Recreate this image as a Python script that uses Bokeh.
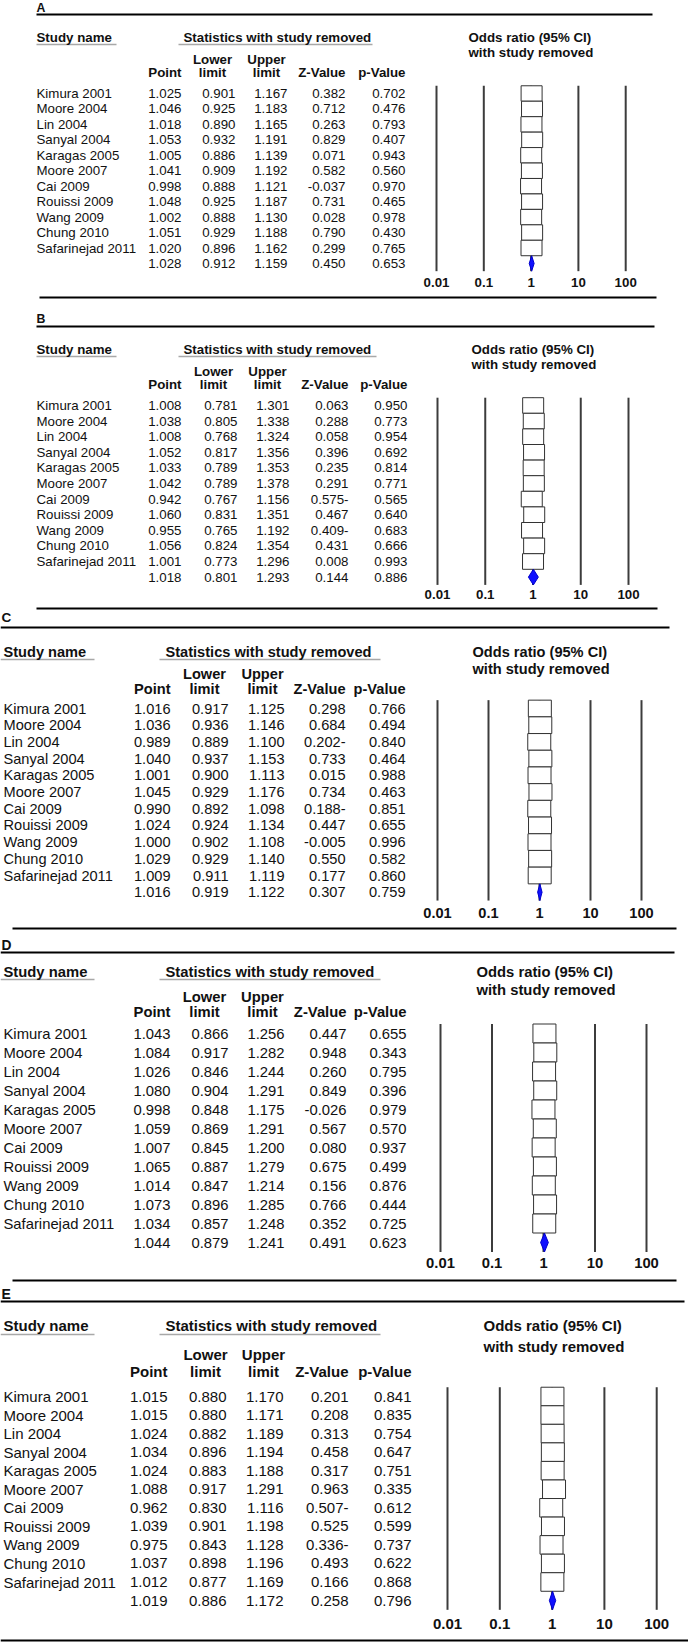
from bokeh.plotting import figure
from bokeh.models import Range1d, LogScale, LinearScale
from bokeh.core.properties import value
from bokeh.embed import file_html
from bokeh.resources import INLINE

studies = ["Kimura 2001", "Moore 2004", "Lin 2004", "Sanyal 2004", "Karagas 2005",
           "Moore 2007", "Cai 2009", "Rouissi 2009", "Wang 2009", "Chung 2010",
           "Safarinejad 2011"]
tick_values = [0.01, 0.1, 1, 10, 100]
tick_labels = ["0.01", "0.1", "1", "10", "100"]

# Panel A (last entry = pooled estimate)
A_point = [1.025, 1.046, 1.018, 1.053, 1.005, 1.041, 0.998, 1.048, 1.002, 1.051, 1.020, 1.028]
A_lower = [0.901, 0.925, 0.890, 0.932, 0.886, 0.909, 0.888, 0.925, 0.888, 0.929, 0.896, 0.912]
A_upper = [1.167, 1.183, 1.165, 1.191, 1.139, 1.192, 1.121, 1.187, 1.130, 1.188, 1.162, 1.159]
A_z = ["0.382", "0.712", "0.263", "0.829", "0.071", "0.582", "-0.037", "0.731", "0.028", "0.790", "0.299", "0.450"]
A_p = [0.702, 0.476, 0.793, 0.407, 0.943, 0.560, 0.970, 0.465, 0.978, 0.430, 0.765, 0.653]

# Panel B
B_point = [1.008, 1.038, 1.008, 1.052, 1.033, 1.042, 0.942, 1.060, 0.955, 1.056, 1.001, 1.018]
B_lower = [0.781, 0.805, 0.768, 0.817, 0.789, 0.789, 0.767, 0.831, 0.765, 0.824, 0.773, 0.801]
B_upper = [1.301, 1.338, 1.324, 1.356, 1.353, 1.378, 1.156, 1.351, 1.192, 1.354, 1.296, 1.293]
B_z = ["0.063", "0.288", "0.058", "0.396", "0.235", "0.291", "0.575-", "0.467", "0.409-", "0.431", "0.008", "0.144"]
B_p = [0.950, 0.773, 0.954, 0.692, 0.814, 0.771, 0.565, 0.640, 0.683, 0.666, 0.993, 0.886]

# Panel C
C_point = [1.016, 1.036, 0.989, 1.040, 1.001, 1.045, 0.990, 1.024, 1.000, 1.029, 1.009, 1.016]
C_lower = [0.917, 0.936, 0.889, 0.937, 0.900, 0.929, 0.892, 0.924, 0.902, 0.929, 0.911, 0.919]
C_upper = [1.125, 1.146, 1.100, 1.153, 1.113, 1.176, 1.098, 1.134, 1.108, 1.140, 1.119, 1.122]
C_z = ["0.298", "0.684", "0.202-", "0.733", "0.015", "0.734", "0.188-", "0.447", "-0.005", "0.550", "0.177", "0.307"]
C_p = [0.766, 0.494, 0.840, 0.464, 0.988, 0.463, 0.851, 0.655, 0.996, 0.582, 0.860, 0.759]

# Panel D
D_point = [1.043, 1.084, 1.026, 1.080, 0.998, 1.059, 1.007, 1.065, 1.014, 1.073, 1.034, 1.044]
D_lower = [0.866, 0.917, 0.846, 0.904, 0.848, 0.869, 0.845, 0.887, 0.847, 0.896, 0.857, 0.879]
D_upper = [1.256, 1.282, 1.244, 1.291, 1.175, 1.291, 1.200, 1.279, 1.214, 1.285, 1.248, 1.241]
D_z = ["0.447", "0.948", "0.260", "0.849", "-0.026", "0.567", "0.080", "0.675", "0.156", "0.766", "0.352", "0.491"]
D_p = [0.655, 0.343, 0.795, 0.396, 0.979, 0.570, 0.937, 0.499, 0.876, 0.444, 0.725, 0.623]

# Panel E
E_point = [1.015, 1.015, 1.024, 1.034, 1.024, 1.088, 0.962, 1.039, 0.975, 1.037, 1.012, 1.019]
E_lower = [0.880, 0.880, 0.882, 0.896, 0.883, 0.917, 0.830, 0.901, 0.843, 0.898, 0.877, 0.886]
E_upper = [1.170, 1.171, 1.189, 1.194, 1.188, 1.291, 1.116, 1.198, 1.128, 1.196, 1.169, 1.172]
E_z = ["0.201", "0.208", "0.313", "0.458", "0.317", "0.963", "0.507-", "0.525", "0.336-", "0.493", "0.166", "0.258"]
E_p = [0.841, 0.835, 0.754, 0.647, 0.751, 0.335, 0.612, 0.599, 0.737, 0.622, 0.868, 0.796]

panels_data = {
    "A": (A_point, A_lower, A_upper, A_z, A_p),
    "B": (B_point, B_lower, B_upper, B_z, B_p),
    "C": (C_point, C_lower, C_upper, C_z, C_p),
    "D": (D_point, D_lower, D_upper, D_z, D_p),
    "E": (E_point, E_lower, E_upper, E_z, E_p),
}

# ---------------- layout (page pixel positions) ----------------
LAY = {
    "A": dict(letter=(36, 7.5), top=(14, 36, 652), bottom=(297, 39, 656),
              sn_y=37, od_y=37, od2_y=52, lo_y=59, pt_y=72, row0=93, step=15.45, ax_y=282,
              name_x=36, cols=[181, 235, 287, 345, 405], lower_c=212, upper_c=266,
              stat_x=183, ul_y=44, sn_ul=(36, 116), st_ul=(178, 372), od_x=468,
              f0=436, dec=47.3, box_w=21, fs=13.3),
    "B": dict(letter=(36, 318), top=(326, 36, 654), bottom=(608, 36, 657),
              sn_y=349, od_y=349, od2_y=364, lo_y=371, pt_y=384, row0=405, step=15.6, ax_y=594,
              name_x=36, cols=[181, 237, 289, 348, 407], lower_c=213, upper_c=267,
              stat_x=183, ul_y=356, sn_ul=(36, 116), st_ul=(178, 376), od_x=471,
              f0=437, dec=47.75, box_w=21, fs=13.3),
    "C": dict(letter=(1, 617), top=(627, 0, 669), bottom=(928, 12, 676),
              sn_y=651, od_y=651, od2_y=668, lo_y=673, pt_y=688, row0=708, step=16.7, ax_y=912,
              name_x=3, cols=[170, 228, 284, 345, 405], lower_c=204, upper_c=262,
              stat_x=165, ul_y=659, sn_ul=(0, 94), st_ul=(159, 380), od_x=472,
              f0=437, dec=51.0, box_w=23, fs=14.6),
    "D": dict(letter=(1, 945), top=(952, 0, 674), bottom=(1280, 12, 676),
              sn_y=971, od_y=971, od2_y=989, lo_y=996, pt_y=1011, row0=1033, step=19.0, ax_y=1262,
              name_x=3, cols=[170, 228, 284, 346, 406], lower_c=204, upper_c=262,
              stat_x=165, ul_y=979, sn_ul=(0, 94), st_ul=(159, 380), od_x=476,
              f0=440, dec=51.5, box_w=23, fs=14.8),
    "E": dict(letter=(1, 1293), top=(1301, 0, 684), bottom=(1640, 0, 688),
              sn_y=1325, od_y=1325, od2_y=1346, lo_y=1354, pt_y=1371, row0=1396, step=18.55, ax_y=1623,
              name_x=3, cols=[167, 226, 283, 348, 411], lower_c=205, upper_c=263,
              stat_x=165, ul_y=1334, sn_ul=(0, 94), st_ul=(159, 380), od_x=483,
              f0=447, dec=52.3, box_w=23, fs=15),
}

PX0, PX1 = 0, 688
PY0, PY1 = 0, 1643
W, H = PX1 - PX0, PY1 - PY0
FONT = value("Liberation Sans")
TXT = "#111111"

p = figure(width=W, height=H, x_range=Range1d(PX0, PX1), y_range=Range1d(PY1, PY0),
           output_backend="svg", toolbar_location=None,
           x_axis_location=None, y_axis_location=None, min_border=0)
p.xgrid.visible = False
p.ygrid.visible = False
p.outline_line_color = None
p.background_fill_color = "white"
p.border_fill_color = "white"


def txt(x, y, s, size, bold=False, align="left", **kw):
    p.text(x=x, y=y, text=s, text_font=FONT, text_font_size=value(f"{size}px"),
           text_font_style="bold" if bold else "normal", text_color=TXT,
           text_align=align, text_baseline="middle", **kw)


n = len(studies)
for key, L in LAY.items():
    point, lower, upper, zval, pval = panels_data[key]
    fx, fy = "fx" + key, "fy" + key
    # log-scaled x range for the forest part
    vlo = -2 + (PX0 - L["f0"]) / L["dec"]
    vhi = -2 + (PX1 - L["f0"]) / L["dec"]
    p.extra_x_ranges[fx] = Range1d(10 ** vlo, 10 ** vhi)
    p.extra_x_scales[fx] = LogScale()
    # row-index y range
    rb = (PY1 - L["row0"]) / L["step"]
    rt = (PY0 - L["row0"]) / L["step"]
    p.extra_y_ranges[fy] = Range1d(rb, rt)
    p.extra_y_scales[fy] = LinearScale()

    fs = L["fs"]
    # panel letter and rules
    txt([L["letter"][0]], [L["letter"][1]], [key], fs - 1.0, bold=True)
    ty, tx0, tx1 = L["top"]
    by, bx0, bx1 = L["bottom"]
    p.segment(x0=[tx0, bx0], y0=[ty, by], x1=[tx1, bx1], y1=[ty, by],
              line_color="black", line_width=2.2)
    # header underlines
    p.segment(x0=[L["sn_ul"][0], L["st_ul"][0]], y0=[L["ul_y"]] * 2,
              x1=[L["sn_ul"][1], L["st_ul"][1]], y1=[L["ul_y"]] * 2,
              line_color="#a8a8a8", line_width=1.6)
    # headers
    txt([L["name_x"]], [L["sn_y"]], ["Study name"], fs, bold=True)
    txt([L["stat_x"]], [L["sn_y"]], ["Statistics with study removed"], fs, bold=True)
    txt([L["od_x"]], [L["od_y"]], ["Odds ratio (95% CI)"], fs, bold=True)
    txt([L["od_x"]], [L["od2_y"]], ["with study removed"], fs, bold=True)
    txt([L["lower_c"], L["upper_c"]], [L["lo_y"]] * 2, ["Lower", "Upper"], fs, bold=True, align="center")
    txt([L["lower_c"], L["upper_c"]], [L["pt_y"]] * 2, ["limit", "limit"], fs, bold=True, align="center")
    c = L["cols"]
    txt([c[0], c[3], c[4]], [L["pt_y"]] * 3, ["Point", "Z-Value", "p-Value"], fs, bold=True, align="right")

    rows = list(range(n + 1))
    # study names
    txt([L["name_x"]] * n, list(range(n)), studies, fs, y_range_name=fy)
    cols_txt = [[f"{v:.3f}" for v in point], [f"{v:.3f}" for v in lower],
                [f"{v:.3f}" for v in upper], zval, [f"{v:.3f}" for v in pval]]
    for ci, col in enumerate(cols_txt):
        txt([c[ci]] * (n + 1), rows, col, fs, align="right", y_range_name=fy)

    # forest: decade lines
    p.segment(x0=tick_values, x1=tick_values, y0=[-0.5] * 5, y1=[n + 0.5] * 5,
              line_color="#3c3c3c", line_width=2, x_range_name=fx, y_range_name=fy)
    # study boxes
    p.rect(x=point[:n], y=list(range(n)), width=L["box_w"], width_units="screen",
           height=1.0, fill_color="white", line_color="#333333", line_width=1,
           x_range_name=fx, y_range_name=fy)
    # pooled diamond
    p.patch(x=[lower[n], point[n], upper[n], point[n]], y=[n, n - 0.5, n, n + 0.5],
            fill_color="#1010ff", line_color="#0000cc", line_width=1,
            x_range_name=fx, y_range_name=fy)
    # axis labels
    txt(tick_values, [L["ax_y"]] * 5, tick_labels, fs, bold=True, align="center", x_range_name=fx)

open("out.html", "w").write(file_html(p, INLINE))
